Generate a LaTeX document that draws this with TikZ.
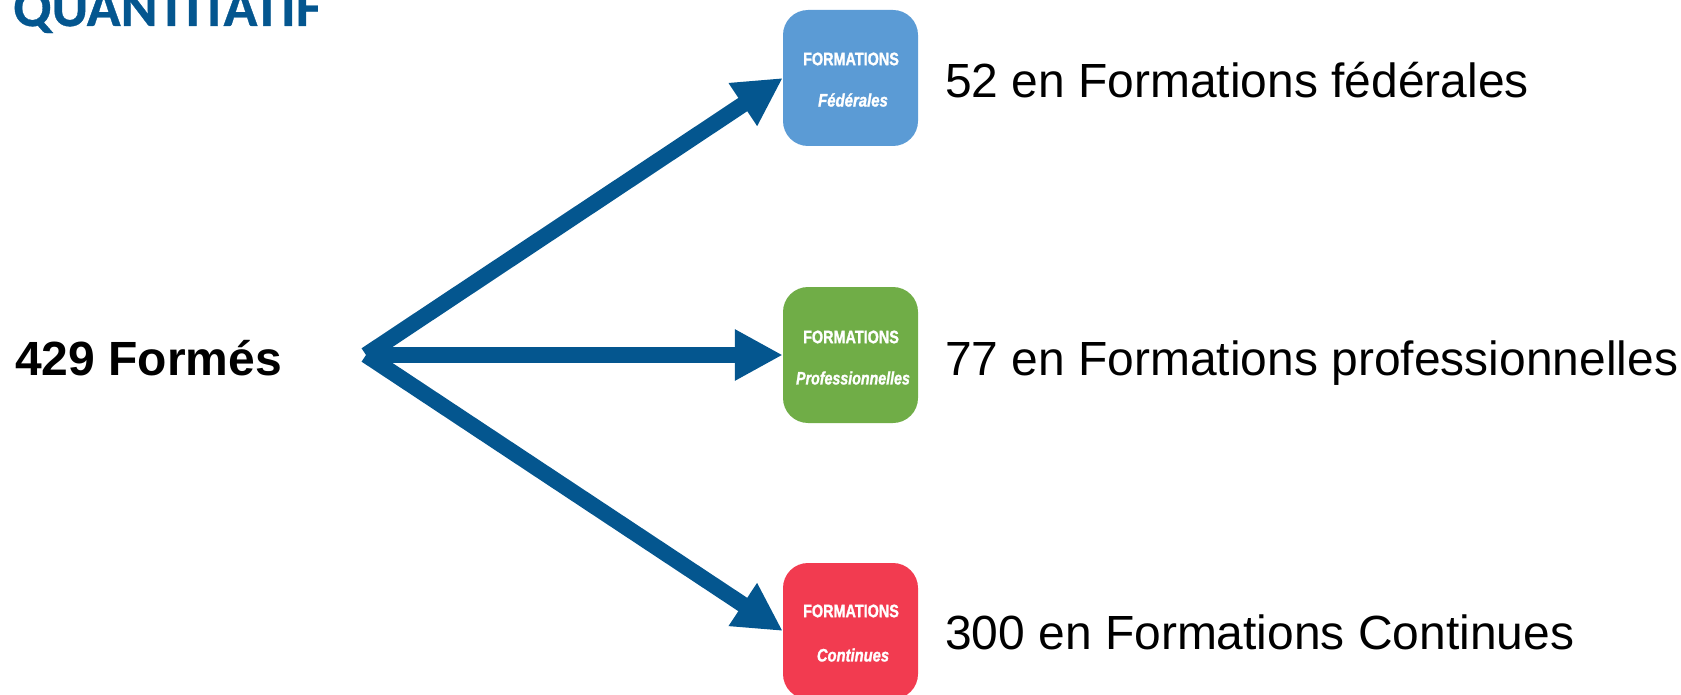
\documentclass[tikz,border=0pt]{standalone}
\usepackage{fontspec}
\setmainfont{Liberation Sans}
\newfontfamily\carlito[FakeBold=0.6]{Carlito}
\newfontfamily\iconfont[FakeBold=1.5]{Liberation Sans}
\usetikzlibrary{arrows.meta}
\definecolor{navy}{HTML}{04568F}
\definecolor{fedblue}{HTML}{5B9BD5}
\definecolor{progreen}{HTML}{70AD47}
\definecolor{contred}{HTML}{F23B50}
\tikzset{
  x=1pt,y=-1pt,
  iconbox/.style={rounded corners=25pt,minimum width=135pt,minimum height=136pt,inner sep=0pt,anchor=center},
  flow/.style={line width=16pt,draw=navy,-{Triangle[length=48pt,width=48pt,fill=navy]},shorten >=0pt},
  lab/.style={anchor=base west,inner sep=0pt,font=\fontsize{47.95}{48}\selectfont,text=black},
  captext/.style={text=white,inner sep=0pt,anchor=center,font=\iconfont\fontsize{18}{18}\selectfont\bfseries},
  subtext/.style={text=white,inner sep=0pt,anchor=center,font=\iconfont\fontsize{18}{18}\selectfont\bfseries\itshape}
}
\begin{document}
\begin{tikzpicture}
\useasboundingbox (0,0) rectangle (1681,695);
\clip (0,0) rectangle (1681,695);
\node[anchor=base west,inner sep=0pt,text=navy,font=\carlito\fontsize{56}{56}\selectfont\bfseries] (title) at (13,26) {QUANTITATIF};
\node[lab,font=\fontsize{48}{48}\selectfont\bfseries] (total) at (15,375) {429 Formés};
\coordinate (src) at (366,355);
\node[iconbox,fill=fedblue] (fed) at (850.5,78) {};
\node[iconbox,fill=progreen] (pro) at (850.5,355) {};
\node[iconbox,fill=contred] (con) at (850.5,631) {};
\node[captext] (fed1) at (851,59) {\scalebox{0.8}[1]{FORMATIONS}};
\node[subtext] (fed2) at (853,100) {\scalebox{0.83}[1]{Fédérales}};
\node[captext] (pro1) at (851,337) {\scalebox{0.8}[1]{FORMATIONS}};
\node[subtext] (pro2) at (853,378) {\scalebox{0.79}[1]{Professionnelles}};
\node[captext] (con1) at (851,611) {\scalebox{0.8}[1]{FORMATIONS}};
\node[subtext] (con2) at (853,655) {\scalebox{0.82}[1]{Continues}};
\draw[flow] (src) -- (fed.west);
\draw[flow] (src) -- (pro.west);
\draw[flow] (src) -- (con.west);
\node[lab] (l1) at (945,98) {52 en Formations fédérales};
\node[lab] (l2) at (945,375) {77 en Formations professionnelles};
\node[lab] (l3) at (945,649) {300 en Formations Continues};
\end{tikzpicture}
\end{document}
